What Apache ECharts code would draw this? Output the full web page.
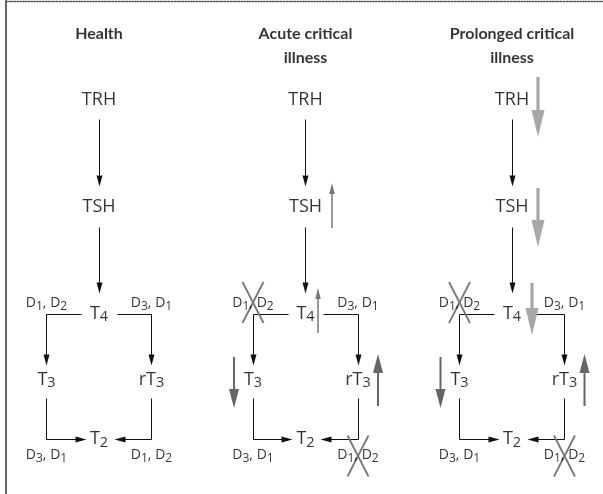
<!DOCTYPE html>
<html><head><meta charset="utf-8">
<script src="https://cdn.jsdelivr.net/npm/echarts@6/dist/echarts.min.js"></script>
<style>html,body{margin:0;padding:0;background:#fff}#c{width:603px;height:494px}</style>
</head><body><div id="c"></div>
<script>
// ---------------- data ----------------
const panelTitles = ['Health', 'Acute critical\nillness', 'Prolonged critical\nillness'];
const hormones = ['TRH', 'TSH', 'T4', 'T3', 'rT3', 'T2'];
// deiodinases on the four conversion steps: T4→T3, T4→rT3, T3→T2, rT3→T2
const enzymes = ['D1, D2', 'D3, D1', 'D3, D1', 'D1, D2'];
// change of each hormone (sign = direction, size: 1 small, 2 medium, 3 large)
const healthChange = [0, 0, 0, 0, 0, 0];
const acuteChange = [0, 1, 1, -2, 2, 0];
const prolongedChange = [-3, -3, -3, -2, 2, 0];
// conversion step blocked (crossed out)
const healthBlocked = [0, 0, 0, 0];
const acuteBlocked = [1, 0, 0, 1];
const prolongedBlocked = [1, 0, 0, 1];

// ---------------- layout ----------------
const PX = 1 / 206.5;              // one pixel expressed in panel units
const BR = 52.5 * PX;              // half distance between the branches
const nodeDX = [0, 0, 0, -BR, BR, 0];
const nodeY = [100, 207, 314, 380, 380, 439];
const enzymeDX = [-BR, BR, -BR, BR];
const enzymeY = [303, 303, 455, 455];
const crossY = [302.5, 302.5, 456, 456];
const titleTop = 22;
const trendPlace = {               // [dx px, centre dy px, length px] by size
  TRH: {3: [26, 7, 60]},
  TSH: {1: [26.5, -1.5, 45], 3: [26, 10.5, 59]},
  T4: {1: [12.5, -3.5, 45], 3: [20, -5, 52]},
  T3: {2: [-19, 2.5, 51]},
  rT3: {2: [20, 0, 52]}
};
const arrowStyle = {
  0: {color: '#111', width: 1, headW: 6, headL: 11, crisp: true},
  1: {color: '#777', width: 1.5, headW: 5.5, headL: 11},
  2: {color: '#666', width: 2, headW: 10, headL: 19},
  3: {color: '#a8a8a8', width: 3.2, headW: 13, headL: 27}
};
const changes = [healthChange, acuteChange, prolongedChange];
const blocked = [healthBlocked, acuteBlocked, prolongedBlocked];

const shapes = [];
const crosses = [];
const hormoneLabels = [];
const enzymeLabels = [];
const titleLabels = [];
panelTitles.forEach((t, p) => {
  const X = i => p + nodeDX[i];
  titleLabels.push({value: [p, titleTop], name: t});
  hormones.forEach((h, i) => hormoneLabels.push({value: [X(i), nodeY[i]], name: h}));
  enzymes.forEach((e, j) => {
    enzymeLabels.push({value: [p + enzymeDX[j], enzymeY[j]], name: e});
    if (blocked[p][j]) crosses.push([p + enzymeDX[j], crossY[j]]);
  });
  shapes.push({k: 0, pts: [[p, nodeY[0] + 19], [p, nodeY[1] - 21]]});
  shapes.push({k: 0, pts: [[p, nodeY[1] + 20], [p, nodeY[2] - 21]]});
  shapes.push({k: 0, pts: [[p - 17.5 * PX, nodeY[2]], [X(3), nodeY[2]], [X(3), nodeY[3] - 15]]});
  shapes.push({k: 0, pts: [[p + 18 * PX, nodeY[2]], [X(4), nodeY[2]], [X(4), nodeY[4] - 15]]});
  shapes.push({k: 0, pts: [[X(3), nodeY[3] + 18], [X(3), nodeY[5]], [p - 13 * PX, nodeY[5]]]});
  shapes.push({k: 0, pts: [[X(4), nodeY[4] + 18], [X(4), nodeY[5]], [p + 15 * PX, nodeY[5]]]});
  changes[p].forEach((c, i) => {
    if (!c) return;
    const size = Math.abs(c), dir = Math.sign(c);
    const [dx, dy, len] = trendPlace[hormones[i]][size];
    const x = X(i) + dx * PX, cy = nodeY[i] + dy;
    shapes.push({k: size, pts: [[x, cy + dir * len / 2], [x, cy - dir * len / 2]]});
  });
});

function oldstyle(s) {
  return s.replace(/[12]/g, d => '{x|' + d + '}').replace(/[34]/g, d => '{y|' + d + '}');
}
const FONT = 'Open Sans';
const INK = '#000';

const chart = echarts.init(document.getElementById('c'), null, {renderer: 'canvas'});
chart.setOption({
  backgroundColor: '#fff',
  animation: false,
  grid: {left: 6, right: 0, top: 1, bottom: 0},
  xAxis: {
    type: 'value', position: 'top', min: -93 / 206.5, max: (597 - 93) / 206.5,
    axisLine: {show: true, onZero: false, lineStyle: {color: '#555', width: 1.4, type: 'dotted'}},
    axisTick: {show: false}, axisLabel: {show: false}, splitLine: {show: false}
  },
  yAxis: {
    type: 'value', inverse: true, min: 1, max: 494,
    axisLine: {show: true, onZero: false, lineStyle: {color: '#666', width: 2}},
    axisTick: {show: false}, axisLabel: {show: false}, splitLine: {show: false}
  },
  series: [
    {
      type: 'custom', coordinateSystem: 'cartesian2d', silent: true, z: 3,
      data: shapes.map(s => s.pts[0]),
      renderItem: (params, api) => {
        const s = shapes[params.dataIndex];
        const st = arrowStyle[s.k];
        let pts = s.pts.map(q => api.coord(q));
        if (st.crisp) pts = pts.map(c => [Math.round(c[0] - 0.5) + 0.5, Math.round(c[1] - 0.5) + 0.5]);
        const n = pts.length;
        const a = pts[n - 2], b = pts[n - 1];
        const dx = b[0] - a[0], dy = b[1] - a[1], L = Math.hypot(dx, dy);
        const ux = dx / L, uy = dy / L;
        const base = [b[0] - ux * st.headL, b[1] - uy * st.headL];
        const shaft = pts.slice(0, n - 1).concat([[b[0] - ux * st.headL * 0.8, b[1] - uy * st.headL * 0.8]]);
        return {type: 'group', children: [
          {type: 'polyline', shape: {points: shaft}, style: {stroke: st.color, lineWidth: st.width, fill: null}},
          {type: 'polygon', shape: {points: [b,
            [base[0] - uy * st.headW / 2, base[1] + ux * st.headW / 2],
            [base[0] + uy * st.headW / 2, base[1] - ux * st.headW / 2]]},
            style: {fill: st.color}}
        ]};
      }
    },
    {
      type: 'custom', coordinateSystem: 'cartesian2d', silent: true, z: 4,
      data: crosses,
      renderItem: (params, api) => {
        const c = api.coord([api.value(0), api.value(1)]);
        const hw = 10.5, hh = 20.5;
        const st = {stroke: '#777', lineWidth: 1.8};
        return {type: 'group', children: [
          {type: 'line', shape: {x1: c[0] - hw, y1: c[1] - hh, x2: c[0] + hw, y2: c[1] + hh}, style: st},
          {type: 'line', shape: {x1: c[0] + hw, y1: c[1] - hh, x2: c[0] - hw, y2: c[1] + hh}, style: st}
        ]};
      }
    },
    {
      type: 'scatter', symbolSize: 0, silent: true, z: 5,
      data: hormoneLabels,
      label: {
        show: true, position: 'inside', color: INK, fontFamily: FONT, fontSize: 18, lineHeight: 21,
        formatter: p => oldstyle(p.name),
        rich: {
          x: {fontFamily: FONT, fontSize: 14.5, lineHeight: 22, verticalAlign: 'bottom', color: INK},
          y: {fontFamily: FONT, fontSize: 14.5, lineHeight: 16, verticalAlign: 'bottom', color: INK}
        }
      }
    },
    {
      type: 'scatter', symbolSize: 0, silent: true, z: 5,
      data: enzymeLabels,
      label: {
        show: true, position: 'inside', color: INK, fontFamily: FONT, fontSize: 14, lineHeight: 17,
        formatter: p => oldstyle(p.name),
        rich: {
          x: {fontFamily: FONT, fontSize: 12, lineHeight: 19, verticalAlign: 'bottom', color: INK},
          y: {fontFamily: FONT, fontSize: 12, lineHeight: 14, verticalAlign: 'bottom', color: INK}
        }
      }
    },
    {
      type: 'scatter', symbolSize: 0, silent: true, z: 5,
      data: titleLabels,
      label: {
        show: true, position: 'inside', verticalAlign: 'top', align: 'center',
        color: '#000', fontFamily: 'Lato', fontWeight: 'bold', fontSize: 16, lineHeight: 24,
        formatter: p => p.name
      }
    }
  ]
});
</script></body></html>
